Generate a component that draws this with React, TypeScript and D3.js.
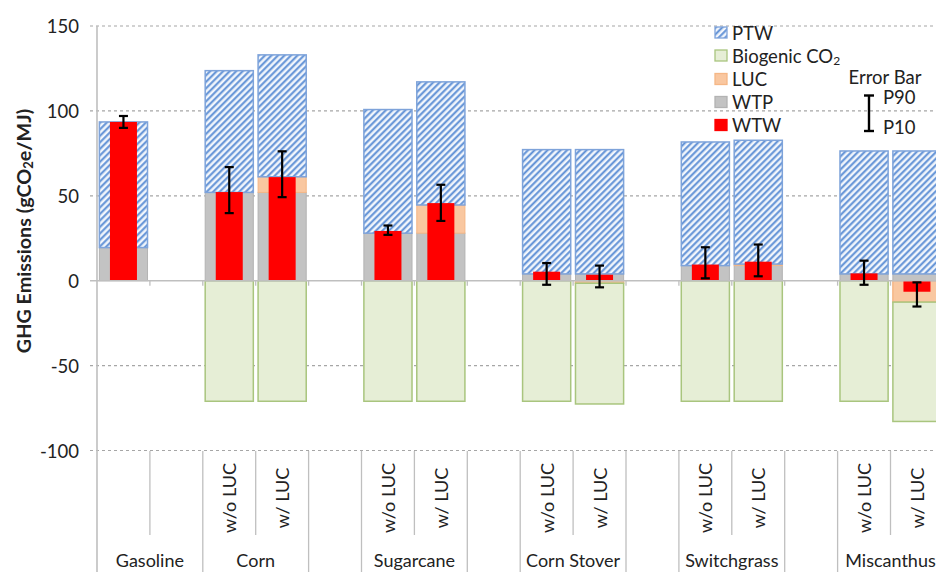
import React from "react";
import * as d3 from "d3";

// ---- Data ----
// 16 category slots; empty slots are spacer positions between pathway groups
const slotGroups = [0, 0, 1, 1, 2, 3, 3, 4, 5, 5, 6, 7, 7, 8, 9, 9];
const groupNames = ["Gasoline", "Corn", "", "Sugarcane", "", "Corn Stover", "", "Switchgrass", "", "Miscanthus"];
const subLabels = ["", "", "w/o LUC", "w/ LUC", "", "w/o LUC", "w/ LUC", "", "w/o LUC", "w/ LUC", "", "w/o LUC", "w/ LUC", "", "w/o LUC", "w/ LUC"];

const wtpValues = [19.5, null, 52, 52, null, 28, 28, null, 4, 4, null, 8.9, 8.9, null, 4, 4];
const lucValues = [0, null, 0, 9.2, null, 0, 16.6, null, 0, -1.5, null, 0, 0.9, null, 0, -12.6];
const ptwValues = [74, null, 71.7, 71.8, null, 72.8, 72.5, null, 73.2, 73.2, null, 72.8, 72.9, null, 72.4, 72.4];
const biogenicValues = [0, null, -71, -71, null, -71, -71, null, -71, -71.1, null, -71, -71, null, -71, -70.3];
const wtwValues = [93.5, null, 52.2, 61, null, 29.3, 45.7, null, 5.3, 3.5, null, 9.5, 11.2, null, 4.3, -6.5];
const p10Values = [90, null, 39.8, 49.2, null, 27, 35.2, null, -2.4, -3.9, null, 1.4, 2.6, null, -2.4, -15.2];
const p90Values = [97, null, 66.9, 76.2, null, 32.5, 56.5, null, 10.4, 8.9, null, 19.7, 21.3, null, 11.8, -1];

const yTicks = [-100, -50, 0, 50, 100, 150];
const legendItems = ["PTW", "Biogenic CO2", "LUC", "WTP", "WTW"];

const FONT = "Lato, 'Open Sans', sans-serif";
const C = {
  ptwStroke: "#7ea3da",
  ptwLine: "#5d8fd5",
  ptwBg: "#f2f6fc",
  bioFill: "#e6eed6",
  bioStroke: "#a9c57e",
  lucFill: "#f9c7a0",
  lucStroke: "#f5b786",
  wtpFill: "#c3c3c3",
  wtpStroke: "#b3b3b3",
  wtw: "#ff0000",
  grid: "#a6a6a6",
  axis: "#bfbfbf",
  text: "#222222",
};

export default function App() {
  const W = 936, H = 572;
  const y = d3.scaleLinear().domain([-100, 150]).range([450.5, 26]);
  const slots = d3.range(slotGroups.length);
  const x = d3.scaleBand<number>().domain(slots).range([97, 943.4]).paddingInner(0.09).paddingOuter(0.045);
  const step = x.step();
  const x0 = 97;
  const slotLeft = (i: number) => x0 + i * step;
  const y0 = y(0);
  const redW = 27;

  const boundaries: { xpos: number; full: boolean }[] = [];
  for (let i = 1; i <= slots.length; i++) {
    const full = i === slots.length || slotGroups[i] !== slotGroups[i - 1];
    boundaries.push({ xpos: slotLeft(i), full });
  }
  const groupCenters = groupNames.map((name, g) => {
    const idx = slots.filter((s) => slotGroups[s] === g);
    const a = slotLeft(idx[0]);
    const b = slotLeft(idx[idx.length - 1] + 1);
    return { name, cx: (a + b) / 2 };
  });

  const rect = (key: string, xl: number, w: number, v1: number, v2: number, fill: string, stroke: string, sw = 1.5) => {
    const ya = y(Math.max(v1, v2));
    const yb = y(Math.min(v1, v2));
    return <rect key={key} x={xl} y={ya} width={w} height={Math.max(0, yb - ya)} fill={fill} stroke={stroke} strokeWidth={sw} />;
  };

  const negBars: any[] = [];
  const posBars: any[] = [];
  const redBars: any[] = [];
  const errBars: any[] = [];
  slots.forEach((i) => {
    const wtp = wtpValues[i];
    if (wtp === null) return;
    const luc = lucValues[i] as number;
    const ptw = ptwValues[i] as number;
    const bio = biogenicValues[i] as number;
    const xl = x(i)!;
    const bw = x.bandwidth();
    let neg = 0;
    if (luc < 0) {
      negBars.push(rect(`lucn${i}`, xl, bw, 0, luc, C.lucFill, C.lucStroke));
      neg = luc;
    }
    if (bio < 0) negBars.push(rect(`bio${i}`, xl, bw, neg, neg + bio, C.bioFill, C.bioStroke));
    posBars.push(rect(`wtp${i}`, xl, bw, 0, wtp, C.wtpFill, C.wtpStroke, 1));
    let top = wtp;
    if (luc > 0) {
      posBars.push(rect(`lucp${i}`, xl, bw, top, top + luc, C.lucFill, C.lucStroke, 1));
      top += luc;
    }
    posBars.push(rect(`ptw${i}`, xl, bw, top, top + ptw, "url(#hatch)", C.ptwStroke, 1.5));
    const cx = xl + bw / 2;
    const wtw = wtwValues[i] as number;
    redBars.push(
      <rect key={`wtw${i}`} x={cx - redW / 2} y={y(Math.max(0, wtw))} width={redW} height={Math.abs(y(wtw) - y0)} fill={C.wtw} />
    );
    const p10 = p10Values[i] as number, p90 = p90Values[i] as number;
    errBars.push(
      <g key={`err${i}`} stroke="#000" strokeWidth={2.2}>
        <line x1={cx} x2={cx} y1={y(p90)} y2={y(p10)} />
        <line x1={cx - 4.5} x2={cx + 4.5} y1={y(p90)} y2={y(p90)} />
        <line x1={cx - 4.5} x2={cx + 4.5} y1={y(p10)} y2={y(p10)} />
      </g>
    );
  });

  const legendY = [32.5, 55.5, 79, 102, 125];
  const legendSwatch = (k: number) => {
    const fills = ["url(#hatch)", C.bioFill, C.lucFill, C.wtpFill, C.wtw];
    const strokes = [C.ptwStroke, C.bioStroke, C.lucStroke, C.wtpStroke, C.wtw];
    return <rect x={715} y={legendY[k] - 5.5} width={12} height={11} fill={fills[k]} stroke={strokes[k]} strokeWidth={1.3} />;
  };

  return (
    <svg width={W} height={H} style={{ position: "absolute", left: 0, top: 0, background: "#fff" }} fontFamily={FONT}>
      <defs>
        <pattern id="hatch" patternUnits="userSpaceOnUse" width={4.6} height={4.6} patternTransform="rotate(45)">
          <rect width={4.6} height={4.6} fill={C.ptwBg} />
          <line x1={1.2} x2={1.2} y1={0} y2={4.6} stroke={C.ptwLine} strokeWidth={2} />
        </pattern>
      </defs>

      {yTicks.filter((t) => t !== 0).map((t) => (
        <line key={`g${t}`} x1={90} x2={W} y1={y(t)} y2={y(t)} stroke={C.grid} strokeWidth={1.2} strokeDasharray="3,3" />
      ))}
      {yTicks.map((t) => (
        <text key={`t${t}`} x={79} y={y(t)} textAnchor="end" dominantBaseline="central" fontSize={18.5} fill={C.text}>
          {t}
        </text>
      ))}

      {negBars}
      {posBars}
      {redBars}

      <line x1={90} x2={W} y1={y0} y2={y0} stroke={C.axis} strokeWidth={1.6} />
      {boundaries.map((b, k) => (
        <line key={`zt${k}`} x1={b.xpos} x2={b.xpos} y1={y0} y2={y0 + 5} stroke={C.axis} strokeWidth={1.3} />
      ))}
      <line x1={x0} x2={x0} y1={26} y2={H} stroke={C.axis} strokeWidth={1.6} />

      {errBars}

      {boundaries.map((b, k) => (
        <line key={`s${k}`} x1={b.xpos} x2={b.xpos} y1={451} y2={b.full ? H : 535} stroke={C.axis} strokeWidth={1.3} />
      ))}
      {slots.map((i) =>
        subLabels[i] ? (
          <text key={`sl${i}`} transform={`translate(${x(i)! + x.bandwidth() / 2},498) rotate(-90)`} textAnchor="middle" dominantBaseline="central" fontSize={18} fill={C.text}>
            {subLabels[i]}
          </text>
        ) : null
      )}
      {groupCenters.map((g, k) =>
        g.name ? (
          <text key={`gl${k}`} x={g.cx} y={567} textAnchor="middle" fontSize={18} fill={C.text}>
            {g.name}
          </text>
        ) : null
      )}

      <text transform="translate(23,231) rotate(-90)" textAnchor="middle" dominantBaseline="central" fontSize={19.8} fontWeight="bold" fill={C.text}>
        GHG Emissions (gCO<tspan fontSize={13} dy={5}>2</tspan><tspan dy={-5}>e/MJ)</tspan>
      </text>

      {legendItems.map((name, k) => (
        <g key={`lg${k}`}>
          {legendSwatch(k)}
          <text x={732} y={legendY[k]} dominantBaseline="central" fontSize={18.5} fill={C.text}>
            {name === "Biogenic CO2" ? (
              <>
                Biogenic CO<tspan fontSize={12} dy={4}>2</tspan>
              </>
            ) : (
              name
            )}
          </text>
        </g>
      ))}
      <text x={885} y={77} textAnchor="middle" dominantBaseline="central" fontSize={18.5} fill={C.text}>
        Error Bar
      </text>
      <g stroke="#000" strokeWidth={2.4}>
        <line x1={869} x2={869} y1={95.5} y2={131} />
        <line x1={864} x2={874} y1={95.5} y2={95.5} />
        <line x1={864} x2={874} y1={131} y2={131} />
      </g>
      <text x={883} y={97} dominantBaseline="central" fontSize={18.5} fill={C.text}>P90</text>
      <text x={883} y={127} dominantBaseline="central" fontSize={18.5} fill={C.text}>P10</text>
    </svg>
  );
}
